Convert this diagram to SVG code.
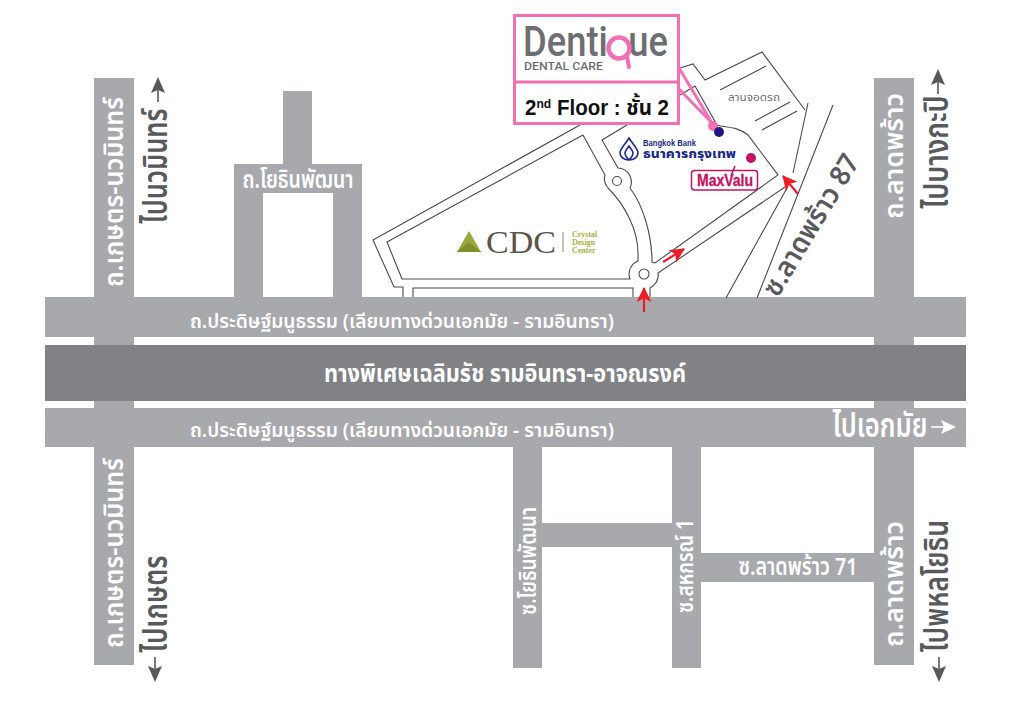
<svg xmlns="http://www.w3.org/2000/svg" width="1024" height="718" viewBox="0 0 1024 718">
<style>
.road{fill:#a7a9ac}
.dark{fill:#808285}
.plan{fill:none;stroke:#4a4a4c;stroke-width:1.1}
.th{font-family:"Noto Sans Thai","Noto Sans","Noto Sans CJK SC",sans-serif;font-weight:600}
.w{fill:#fff;text-anchor:middle}
.g{fill:#58595b;text-anchor:middle}
.pink{fill:none;stroke:#f26fb3}
.red{stroke:#ed1c24;stroke-width:2.2;fill:none;marker-end:url(#ra)}
</style>
<defs>
<marker id="ra" viewBox="0 0 14 14" refX="13" refY="7" markerUnits="userSpaceOnUse" markerWidth="15" markerHeight="15" orient="auto"><path d="M0 0L14 7L0 14L3.500 7Z" fill="#ed1c24"/></marker>
</defs>
<rect width="1024" height="718" fill="#fff"/>
<g id="roads">
<rect class="road" x="94" y="78" width="40" height="587"/>
<rect class="road" x="874" y="78" width="40" height="587"/>
<path class="road" d="M283 91H312V164H362V297H333V193H263V297H234V164H283Z"/>
<rect class="road" x="45" y="297" width="921" height="40"/>
<rect class="road" x="45" y="408" width="921" height="39"/>
<rect class="dark" x="45" y="345" width="921" height="56"/>
<rect class="road" x="513" y="447" width="29" height="221"/>
<rect class="road" x="672" y="447" width="29" height="221"/>
<rect class="road" x="542" y="523" width="130" height="24"/>
<rect class="road" x="701" y="553" width="173" height="29"/>
</g>
<g id="plan">
<path class="plan" d="M580 125L373 240L394 287H403V297"/>
<path class="plan" d="M583 135L387 242L402 279H630A14 14 0 0 1 638 261V253C638 230 625 205 608 188A14 14 0 0 1 605 175L583 135"/>
<path class="plan" d="M413 297V288H633V297"/>
<path class="plan" d="M650 297V288A14 14 0 0 0 658 273L785 187"/>
<path class="plan" d="M627 125L602 140L618 168A14 14 0 0 1 630 188C643 205 652 235 652 262L655 263L778 175L748 135C735 125 725 128 717 125L695 86L680 95"/>
<path class="plan" d="M680 68L693 64L705 80L762 52L805 110"/>
<path class="plan" d="M720 90L766 66M755 121L790 102M762 130L797 111M808 103L793 173M833 105L757 298M787 188L726 298"/>
<circle class="plan" cx="617" cy="181" r="4.5"/>
<circle class="plan" cx="644" cy="274" r="5"/>
</g>
<g id="connectors">
<path class="pink" stroke-width="3" d="M679 68L712 123L679 89"/>
<path class="red" d="M644 312V288"/>
<path class="red" d="M663 262L684 249"/>
<path class="red" d="M798 194L783 176"/>
</g>
<g id="road-labels">
<text class="th w" font-size="27" transform="translate(123 192) rotate(-90)" textLength="190" lengthAdjust="spacingAndGlyphs">ถ.เกษตร-นวมินทร์</text>
<text class="th w" font-size="27" transform="translate(123 553) rotate(-90)" textLength="190" lengthAdjust="spacingAndGlyphs">ถ.เกษตร-นวมินทร์</text>
<text class="th w" font-size="27" transform="translate(903 156) rotate(-90)" textLength="126" lengthAdjust="spacingAndGlyphs">ถ.ลาดพร้าว</text>
<text class="th w" font-size="27" transform="translate(903 584) rotate(-90)" textLength="126" lengthAdjust="spacingAndGlyphs">ถ.ลาดพร้าว</text>
<text class="th w" font-size="25" x="298" y="188" textLength="111" lengthAdjust="spacingAndGlyphs">ถ.โยธินพัฒนา</text>
<text class="th w" font-size="20" x="402" y="328" textLength="424" lengthAdjust="spacingAndGlyphs">ถ.ประดิษฐ์มนูธรรม (เลียบทางด่วนเอกมัย - รามอินทรา)</text>
<text class="th w" font-size="20" x="402" y="437" textLength="424" lengthAdjust="spacingAndGlyphs">ถ.ประดิษฐ์มนูธรรม (เลียบทางด่วนเอกมัย - รามอินทรา)</text>
<text class="th w" font-size="24" x="505" y="382" textLength="362" lengthAdjust="spacingAndGlyphs" style="font-weight:700">ทางพิเศษเฉลิมรัช รามอินทรา-อาจณรงค์</text>
<text class="th w" font-size="23" transform="translate(536 561) rotate(-90)" textLength="108" lengthAdjust="spacingAndGlyphs">ซ.โยธินพัฒนา</text>
<text class="th w" font-size="23" transform="translate(693 566) rotate(-90)" textLength="94" lengthAdjust="spacingAndGlyphs">ซ.สหกรณ์ 1</text>
<text class="th w" font-size="24" x="798" y="575" textLength="119" lengthAdjust="spacingAndGlyphs">ซ.ลาดพร้าว 71</text>
<text class="th g" font-size="28" transform="translate(819 230) rotate(-59)" textLength="160" lengthAdjust="spacingAndGlyphs">ซ.ลาดพร้าว 87</text>
<text class="th" font-size="11" fill="#6d6e71" style="font-weight:400" x="728" y="101" textLength="52" lengthAdjust="spacingAndGlyphs">ลานจอดรถ</text>
</g>
<g id="direction-labels" fill="#58595b">
<text class="th g" font-size="34" transform="translate(167 166) rotate(-90)" textLength="115" lengthAdjust="spacingAndGlyphs">ไปนวมินทร์</text>
<path d="M158 102V90" stroke="#58595b" stroke-width="1.6"/><path d="M158 77L165 93L158 90L151 93Z"/>
<text class="th g" font-size="34" transform="translate(167 604) rotate(-90)" textLength="97" lengthAdjust="spacingAndGlyphs">ไปเกษตร</text>
<path d="M155 657V669" stroke="#58595b" stroke-width="1.6"/><path d="M155 682L162 666L155 669L148 666Z"/>
<text class="th g" font-size="34" transform="translate(948 152) rotate(-90)" textLength="113" lengthAdjust="spacingAndGlyphs">ไปบางกะปิ</text>
<path d="M938 94V82" stroke="#58595b" stroke-width="1.6"/><path d="M938 69L945 85L938 82L931 85Z"/>
<text class="th g" font-size="34" transform="translate(948 586) rotate(-90)" textLength="132" lengthAdjust="spacingAndGlyphs">ไปพหลโยธิน</text>
<path d="M939 657V669" stroke="#58595b" stroke-width="1.6"/><path d="M939 682L946 666L939 669L932 666Z"/>
<text class="th w" font-size="34" x="880" y="437" textLength="95" lengthAdjust="spacingAndGlyphs">ไปเอกมัย</text>
<path d="M931 427H945" stroke="#fff" stroke-width="1.6"/><path d="M956 427L941 420L944 427L941 434Z" fill="#fff"/>
</g>
<g id="dentique">
<rect x="514.500" y="15.500" width="164" height="108" fill="#fff" stroke="#f26fb3" stroke-width="3"/>
<path class="pink" stroke-width="3" d="M514 82H679"/>
<text x="523" y="56" font-family="Roboto,sans-serif" font-weight="500" font-size="43" fill="#6d6e71" textLength="145" lengthAdjust="spacingAndGlyphs">Denti<tspan fill="none">q</tspan>ue</text>
<circle cx="619" cy="48" r="10.500" fill="none" stroke="#f26fb3" stroke-width="4.500"/>
<path d="M627 57L629 67" stroke="#f26fb3" stroke-width="4" stroke-linecap="round"/>
<text x="524" y="70" font-family="Roboto,sans-serif" font-weight="500" font-size="11" fill="#6d6e71" textLength="79" lengthAdjust="spacingAndGlyphs">DENTAL CARE</text>
<text x="525" y="115" font-family="Liberation Sans,Noto Sans Thai,sans-serif" font-size="22" font-weight="700" fill="#111" textLength="144" lengthAdjust="spacingAndGlyphs">2<tspan font-size="13" dy="-7">nd</tspan><tspan dy="7"> Floor : ชั้น 2</tspan></text>
</g>
<g id="dots">
<circle cx="713" cy="126" r="5" fill="#f26fb3"/>
<circle cx="719" cy="132" r="5" fill="#1b1a84"/>
<circle cx="751" cy="158" r="5" fill="#c4145f"/>
</g>
<g id="bangkok-bank">
<path d="M629 138C634 146 638 149 638 153C638 157 634 160 629 160C624 160 620 157 620 153C620 149 624 146 629 138ZM629 146C626 150 625 152 625 153C625 156 627 158 629 160C631 158 633 156 633 153C633 152 632 150 629 146Z" fill="none" stroke="#1c2a8c" stroke-width="1.600"/>
<text x="643" y="146" font-family="Liberation Sans,sans-serif" font-weight="700" font-size="8.500" fill="#1c2a8c" textLength="53" lengthAdjust="spacingAndGlyphs">Bangkok Bank</text>
<text class="th" x="643" y="158" font-size="13" style="font-weight:800" fill="#1c2a8c" textLength="93" lengthAdjust="spacingAndGlyphs">ธนาคารกรุงเทพ</text>
</g>
<g id="maxvalu">
<rect x="691.500" y="170.500" width="66" height="19.500" rx="3" fill="#fff" stroke="#c4145f" stroke-width="1.500"/>
<text x="697" y="186" font-family="Liberation Sans,sans-serif" font-weight="700" font-size="16" fill="#c4145f" textLength="56" lengthAdjust="spacingAndGlyphs" stroke="#c4145f" stroke-width=".3">MaxValu</text>
<path d="M731 176L735 166" stroke="#c4145f" stroke-width="1.500"/>
</g>
<g id="cdc">
<path d="M457 252L469 231L481 252Z" fill="#9aa83a"/>
<path d="M457 252L469 242L481 252Z" fill="#7f8f2a"/>
<text x="486" y="253" font-family="Liberation Serif,serif" font-size="32" fill="#5a5546" textLength="70" lengthAdjust="spacingAndGlyphs">CDC</text>
<path d="M563 232V252" stroke="#8c8c70" stroke-width="1"/>
<text font-family="Liberation Serif,serif" font-size="8" font-weight="700" fill="#a9b03a"><tspan x="572" y="237">Crystal</tspan><tspan x="572" y="245">Design</tspan><tspan x="572" y="253">Center</tspan></text>
</g>
</svg>
